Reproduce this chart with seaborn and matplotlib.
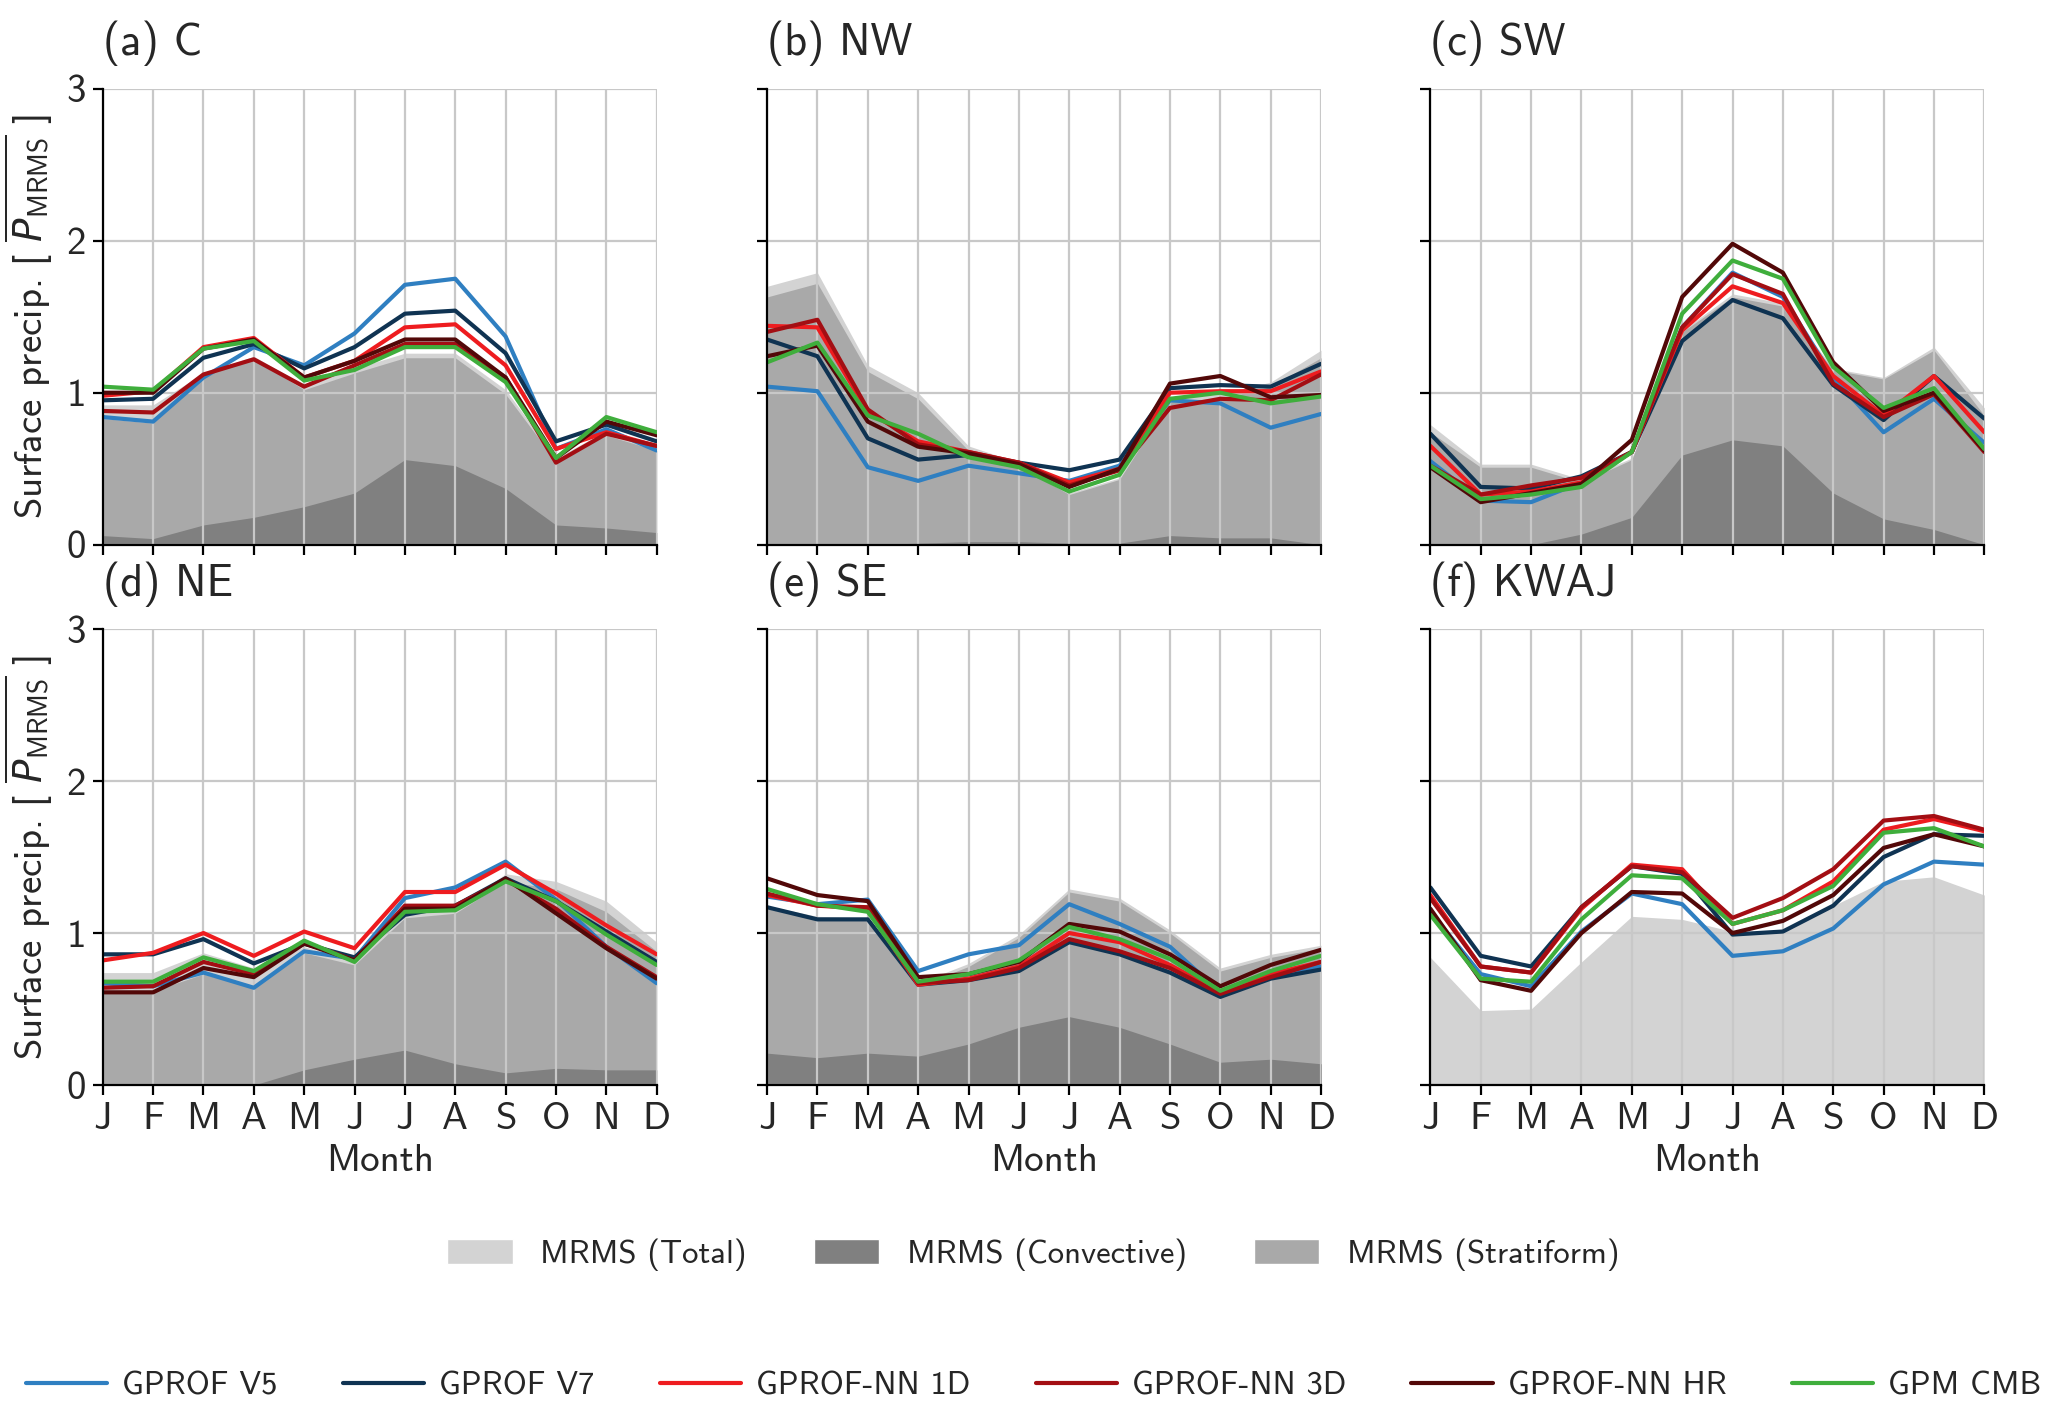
import numpy as np
import pandas as pd
import matplotlib
matplotlib.use("Agg")
import matplotlib.pyplot as plt
import seaborn as sns
from matplotlib.patches import Patch
from matplotlib.lines import Line2D

# ---------------- data ----------------
months = ["J", "F", "M", "A", "M", "J", "J", "A", "S", "O", "N", "D"]
regions = ["C", "NW", "SW", "NE", "SE", "KWAJ"]
panel_letters = ["a", "b", "c", "d", "e", "f"]

# MRMS reference (upper edges of the filled areas)
mrms_total = {
    "C":    [0.92, 0.92, 1.13, 1.24, 1.05, 1.16, 1.26, 1.26, 1.02, 0.57, 0.75, 0.66],
    "NW":   [1.70, 1.79, 1.18, 1.00, 0.65, 0.54, 0.34, 0.44, 0.96, 0.99, 1.07, 1.28],
    "SW":   [0.79, 0.53, 0.53, 0.43, 0.57, 1.41, 1.65, 1.59, 1.16, 1.10, 1.30, 0.90],
    "NE":   [0.74, 0.74, 0.87, 0.77, 0.91, 0.82, 1.13, 1.16, 1.39, 1.34, 1.21, 0.94],
    "SE":   [1.18, 1.11, 1.10, 0.67, 0.80, 0.99, 1.29, 1.23, 1.02, 0.77, 0.86, 0.92],
    "KWAJ": [0.84, 0.49, 0.50, 0.81, 1.11, 1.09, 1.01, 1.01, 1.18, 1.34, 1.37, 1.25],
}
mrms_stratiform = {
    "C":  [0.83, 0.80, 1.12, 1.22, 1.02, 1.13, 1.23, 1.23, 0.99, 0.55, 0.72, 0.62],
    "NW": [1.63, 1.72, 1.14, 0.96, 0.62, 0.52, 0.33, 0.43, 0.95, 0.96, 1.04, 1.23],
    "SW": [0.74, 0.51, 0.51, 0.41, 0.56, 1.40, 1.63, 1.57, 1.15, 1.09, 1.28, 0.85],
    "NE": [0.62, 0.62, 0.73, 0.64, 0.87, 0.79, 1.10, 1.13, 1.34, 1.29, 1.14, 0.88],
    "SE": [1.16, 1.09, 1.09, 0.65, 0.78, 0.97, 1.27, 1.21, 1.00, 0.75, 0.84, 0.90],
}
mrms_convective = {
    "C":  [0.06, 0.04, 0.13, 0.18, 0.25, 0.34, 0.56, 0.52, 0.37, 0.13, 0.11, 0.08],
    "NW": [0.00, 0.00, 0.00, 0.01, 0.02, 0.02, 0.01, 0.01, 0.06, 0.045, 0.045, 0.00],
    "SW": [0.00, 0.00, 0.00, 0.07, 0.18, 0.59, 0.69, 0.65, 0.34, 0.17, 0.10, 0.00],
    "NE": [0.00, 0.00, 0.00, 0.00, 0.10, 0.17, 0.23, 0.14, 0.08, 0.11, 0.10, 0.10],
    "SE": [0.21, 0.18, 0.21, 0.19, 0.27, 0.38, 0.45, 0.38, 0.27, 0.15, 0.17, 0.14],
}

# Retrievals
gprof_v5 = {
    "C":    [0.84, 0.81, 1.10, 1.30, 1.18, 1.39, 1.71, 1.75, 1.37, 0.63, 0.76, 0.62],
    "NW":   [1.04, 1.01, 0.51, 0.42, 0.52, 0.47, 0.42, 0.52, 0.95, 0.93, 0.77, 0.86],
    "SW":   [0.55, 0.29, 0.28, 0.41, 0.61, 1.43, 1.79, 1.63, 1.10, 0.74, 0.96, 0.67],
    "NE":   [0.67, 0.65, 0.74, 0.64, 0.88, 0.83, 1.23, 1.30, 1.47, 1.22, 0.91, 0.67],
    "SE":   [1.24, 1.19, 1.22, 0.75, 0.86, 0.92, 1.19, 1.06, 0.91, 0.61, 0.73, 0.78],
    "KWAJ": [1.14, 0.73, 0.65, 1.01, 1.26, 1.19, 0.85, 0.88, 1.03, 1.32, 1.47, 1.45],
}
gprof_v7 = {
    "C":    [0.95, 0.96, 1.23, 1.32, 1.16, 1.30, 1.52, 1.54, 1.26, 0.68, 0.79, 0.68],
    "NW":   [1.35, 1.24, 0.70, 0.56, 0.59, 0.54, 0.49, 0.56, 1.03, 1.05, 1.04, 1.19],
    "SW":   [0.73, 0.38, 0.37, 0.45, 0.61, 1.34, 1.61, 1.49, 1.05, 0.82, 1.11, 0.83],
    "NE":   [0.86, 0.86, 0.96, 0.80, 0.93, 0.84, 1.12, 1.18, 1.36, 1.21, 1.01, 0.81],
    "SE":   [1.17, 1.09, 1.09, 0.66, 0.69, 0.75, 0.94, 0.86, 0.74, 0.58, 0.70, 0.76],
    "KWAJ": [1.30, 0.85, 0.78, 1.17, 1.44, 1.39, 0.99, 1.01, 1.18, 1.50, 1.65, 1.64],
}
gprof_nn_1d = {
    "C":    [0.98, 1.01, 1.30, 1.36, 1.10, 1.21, 1.43, 1.45, 1.18, 0.63, 0.74, 0.65],
    "NW":   [1.44, 1.43, 0.875, 0.68, 0.61, 0.54, 0.41, 0.50, 1.00, 1.01, 1.01, 1.14],
    "SW":   [0.65, 0.33, 0.35, 0.41, 0.61, 1.41, 1.70, 1.59, 1.11, 0.85, 1.11, 0.74],
    "NE":   [0.82, 0.87, 1.00, 0.85, 1.01, 0.90, 1.27, 1.27, 1.45, 1.26, 1.05, 0.86],
    "SE":   [1.25, 1.18, 1.16, 0.66, 0.70, 0.78, 1.00, 0.94, 0.79, 0.61, 0.73, 0.81],
    "KWAJ": [1.25, 0.78, 0.74, 1.16, 1.45, 1.42, 1.06, 1.15, 1.34, 1.68, 1.75, 1.67],
}
gprof_nn_3d = {
    "C":    [0.88, 0.87, 1.12, 1.22, 1.04, 1.18, 1.32, 1.32, 1.10, 0.54, 0.73, 0.65],
    "NW":   [1.40, 1.48, 0.89, 0.66, 0.61, 0.54, 0.39, 0.49, 0.90, 0.96, 0.95, 1.12],
    "SW":   [0.52, 0.33, 0.39, 0.44, 0.61, 1.43, 1.78, 1.65, 1.06, 0.84, 0.99, 0.61],
    "NE":   [0.64, 0.65, 0.81, 0.73, 0.94, 0.82, 1.18, 1.18, 1.35, 1.16, 0.91, 0.71],
    "SE":   [1.26, 1.18, 1.17, 0.67, 0.69, 0.77, 0.96, 0.88, 0.77, 0.60, 0.71, 0.81],
    "KWAJ": [1.23, 0.78, 0.74, 1.17, 1.44, 1.40, 1.10, 1.23, 1.42, 1.74, 1.77, 1.68],
}
gprof_nn_hr = {
    "C":    [1.00, 1.00, 1.29, 1.35, 1.10, 1.21, 1.35, 1.35, 1.10, 0.57, 0.81, 0.72],
    "NW":   [1.24, 1.31, 0.81, 0.645, 0.60, 0.53, 0.38, 0.50, 1.06, 1.11, 0.97, 0.985],
    "SW":   [0.51, 0.28, 0.34, 0.40, 0.69, 1.63, 1.98, 1.79, 1.20, 0.88, 1.00, 0.62],
    "NE":   [0.61, 0.61, 0.77, 0.71, 0.93, 0.82, 1.16, 1.16, 1.36, 1.13, 0.90, 0.70],
    "SE":   [1.36, 1.25, 1.21, 0.71, 0.73, 0.81, 1.06, 1.01, 0.86, 0.65, 0.79, 0.89],
    "KWAJ": [1.16, 0.69, 0.62, 1.00, 1.27, 1.26, 1.00, 1.08, 1.25, 1.56, 1.65, 1.57],
}
gpm_cmb = {
    "C":    [1.04, 1.02, 1.29, 1.34, 1.08, 1.15, 1.30, 1.30, 1.07, 0.57, 0.84, 0.74],
    "NW":   [1.20, 1.33, 0.85, 0.73, 0.575, 0.51, 0.35, 0.46, 0.96, 1.00, 0.93, 0.975],
    "SW":   [0.52, 0.30, 0.33, 0.38, 0.61, 1.52, 1.87, 1.75, 1.17, 0.90, 1.03, 0.63],
    "NE":   [0.68, 0.68, 0.84, 0.75, 0.95, 0.81, 1.14, 1.15, 1.34, 1.21, 0.99, 0.79],
    "SE":   [1.29, 1.19, 1.14, 0.68, 0.73, 0.82, 1.04, 0.96, 0.83, 0.62, 0.75, 0.85],
    "KWAJ": [1.12, 0.70, 0.68, 1.09, 1.38, 1.36, 1.06, 1.15, 1.31, 1.66, 1.69, 1.57],
}

series_names = ["GPROF V5", "GPROF V7", "GPROF-NN 1D", "GPROF-NN 3D", "GPROF-NN HR", "GPM CMB"]
series_data = [gprof_v5, gprof_v7, gprof_nn_1d, gprof_nn_3d, gprof_nn_hr, gpm_cmb]
series_colors = ["#2f7fc1", "#0f3352", "#ee1c1f", "#a30e13", "#520808", "#3fae3c"]

c_total, c_conv, c_strat = "#d3d3d3", "#808080", "#a9a9a9"

# ---------------- style ----------------
sns.set_theme(style="whitegrid")
plt.rcParams["font.family"] = ["cmss10", "DejaVu Sans"]
plt.rcParams["mathtext.fontset"] = "custom"
plt.rcParams["mathtext.rm"] = "cmss10"
plt.rcParams["mathtext.sf"] = "cmss10"
plt.rcParams["mathtext.it"] = "DejaVu Sans:italic"
plt.rcParams["axes.unicode_minus"] = False
FS = 28       # ticks / axis labels
FS_T = 32     # panel titles
FS_L = 23.5   # legends

fig = plt.figure(figsize=(20.67, 14.13), dpi=100)
lefts = [0.0497, 0.3711, 0.692]
bottoms = [0.6145, 0.2321]
W, H = 0.268, 0.3227

x = np.arange(12)
for i, reg in enumerate(regions):
    r, c = divmod(i, 3)
    ax = fig.add_axes([lefts[c], bottoms[r], W, H])
    ax.fill_between(x, 0, mrms_total[reg], color=c_total, lw=0, zorder=1)
    if reg in mrms_stratiform:
        ax.fill_between(x, 0, mrms_stratiform[reg], color=c_strat, lw=0, zorder=1)
        ax.fill_between(x, 0, mrms_convective[reg], color=c_conv, lw=0, zorder=1)
    for name, data, col in zip(series_names, series_data, series_colors):
        df = pd.DataFrame({"month": x, "value": data[reg]})
        sns.lineplot(data=df, x="month", y="value", color=col, lw=3.0, ax=ax,
                     legend=False, zorder=3)
    ax.set_axisbelow("line")
    ax.grid(True, color="#c8c8c8", lw=1.6, zorder=1.5)
    ax.set_xlim(0, 11)
    ax.set_ylim(0, 3)
    ax.set_xticks(x)
    ax.set_yticks([0, 1, 2, 3])
    for s in ["top", "right"]:
        ax.spines[s].set_visible(False)
    for s in ["left", "bottom"]:
        ax.spines[s].set_color("black")
        ax.spines[s].set_linewidth(1.6)
        ax.spines[s].set_zorder(4)
    ax.tick_params(axis="both", direction="out", length=7, width=1.6, color="black",
                   labelsize=FS, pad=5, left=True, bottom=True)
    if r == 1:
        ax.set_xticklabels(months)
        ax.set_xlabel("Month", fontsize=FS, labelpad=5)
    else:
        ax.set_xticklabels([])
        ax.set_xlabel("")
    if c == 0:
        ax.set_yticklabels(["0", "1", "2", "3"])
        ax.set_ylabel(r"Surface precip. [ $\overline{P_\mathrm{MRMS}}$ ]", fontsize=FS, labelpad=8)
    else:
        ax.set_yticklabels([])
        ax.set_ylabel("")
    ax.set_title(f"({panel_letters[i]}) {reg}", loc="left", fontsize=FS_T, pad=24)

patch_handles = [Patch(facecolor=c_total, label="MRMS (Total)"),
                 Patch(facecolor=c_conv, label="MRMS (Convective)"),
                 Patch(facecolor=c_strat, label="MRMS (Stratiform)")]
fig.legend(handles=patch_handles, loc="center", bbox_to_anchor=(0.5, 0.112), ncol=3,
           frameon=False, fontsize=FS_L, handlelength=2.0, handleheight=0.8,
           handletextpad=0.85, columnspacing=2.05)

line_handles = [Line2D([], [], color=col, lw=3.0, label=name)
                for name, col in zip(series_names, series_colors)]
fig.legend(handles=line_handles, loc="center", bbox_to_anchor=(0.5, 0.019), ncol=6,
           frameon=False, fontsize=FS_L, handlelength=2.5, handletextpad=0.45,
           columnspacing=2.0)

fig.savefig("out.png", dpi=100)
